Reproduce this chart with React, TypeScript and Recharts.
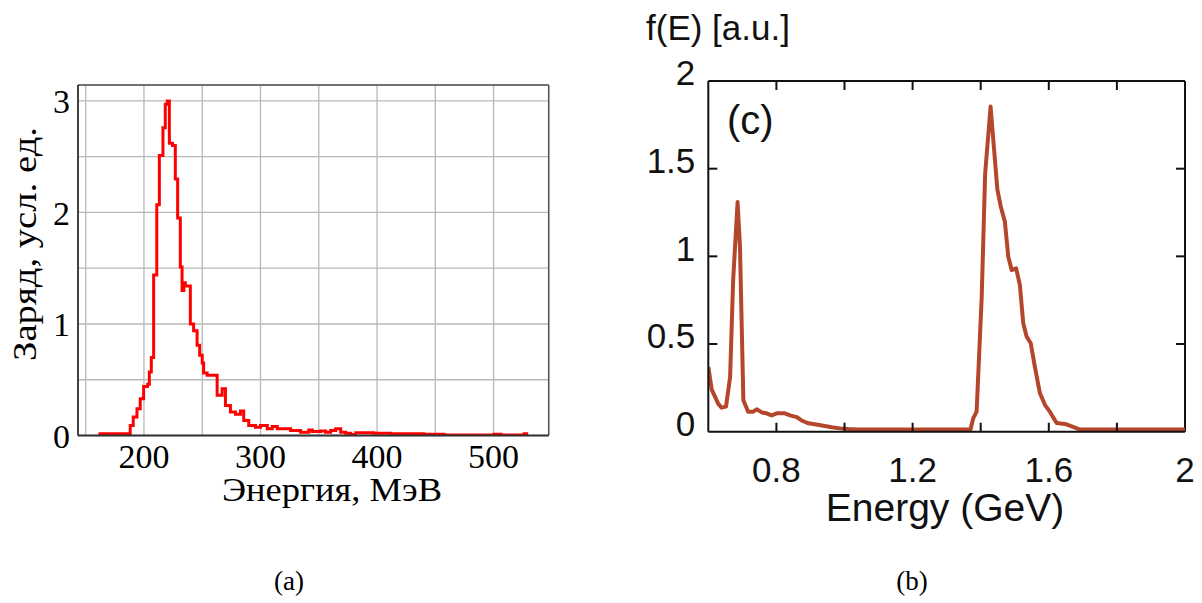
import React from "react";
import {
  LineChart, Line, XAxis, YAxis, CartesianGrid, ReferenceLine,
} from "recharts";

// (a) spectrum: bin left edges (MeV) and charge per bin, last edge closes the histogram
const binEdges = [
  161.0, 188.2, 190.8, 194.0, 196.8, 199.7, 203.1, 204.6, 206.3, 208.3,
  211.0, 213.2, 216.3, 218.3, 220.0, 221.8, 224.5, 226.9, 228.9, 231.2,
  232.7, 234.2, 235.5, 239.8, 242.6, 245.6, 247.8, 250.0, 251.2, 254.2,
  262.8, 267.1, 269.9, 274.2, 278.5, 282.8, 285.6, 289.9, 295.7, 300.0,
  305.8, 310.1, 314.4, 325.8, 334.4, 341.5, 344.5, 351.6, 355.9, 360.2,
  364.5, 368.8, 373.1, 377.4, 381.7, 397.2, 411.8, 440.2, 457.4, 500.4,
  506.4, 526.2, 529.7,
];
const binCharge = [
  0.015, 0.09, 0.165, 0.24, 0.33, 0.44, 0.46, 0.57, 0.70, 1.44,
  2.07, 2.51, 2.76, 2.97, 3.0, 2.62, 2.60, 2.30, 1.95, 1.51,
  1.30, 1.37, 1.34, 1.00, 0.94, 0.81, 0.72, 0.65, 0.56, 0.54,
  0.36, 0.42, 0.27, 0.21, 0.19, 0.22, 0.135, 0.09, 0.075, 0.09,
  0.06, 0.08, 0.06, 0.045, 0.03, 0.05, 0.035, 0.04, 0.03, 0.045,
  0.06, 0.03, 0.02, 0.01, 0.025, 0.02, 0.015, 0.012, 0.005, 0.012,
  0.005, 0.015,
];
const mevDomain = [143.4, 547.3];
const chargeDomain = [0, 3.143];
const mevTicks = [150, 200, 250, 300, 350, 400, 450, 500];
const chargeTicks = [0, 0.5, 1, 1.5, 2, 2.5, 3];

// (b) spectrum f(E)
const gevEnergy = [
  0.600, 0.610, 0.629, 0.639, 0.652, 0.664, 0.673, 0.686, 0.693, 0.703,
  0.717, 0.732, 0.742, 0.757, 0.771, 0.786, 0.801, 0.825, 0.840, 0.860,
  0.874, 0.894, 0.913, 0.938, 0.962, 0.987, 1.011, 1.036, 1.370, 1.378,
  1.388, 1.403, 1.413, 1.429, 1.437, 1.449, 1.459, 1.471, 1.481, 1.491,
  1.504, 1.515, 1.525, 1.535, 1.547, 1.559, 1.574, 1.589, 1.603, 1.623,
  1.652, 1.692, 2.000,
];
const fValue = [
  0.37, 0.24, 0.16, 0.137, 0.143, 0.31, 0.865, 1.31, 1.055, 0.18,
  0.114, 0.114, 0.128, 0.11, 0.105, 0.093, 0.105, 0.105, 0.093, 0.083,
  0.064, 0.048, 0.042, 0.034, 0.025, 0.019, 0.015, 0.012, 0.012, 0.076,
  0.114, 0.77, 1.47, 1.854, 1.664, 1.38, 1.283, 1.198, 0.998, 0.922,
  0.932, 0.837, 0.618, 0.542, 0.504, 0.371, 0.219, 0.152, 0.114, 0.05,
  0.042, 0.012, 0.012,
];
const gevDomain = [0.6, 2];
const fDomain = [0, 2];
const gevTicks = [0.8, 1.0, 1.2, 1.4, 1.6, 1.8, 2.0];
const fTicks = [0, 0.5, 1, 1.5, 2];

const histData = binEdges.map((e, i) => ({
  e,
  q: binCharge[Math.min(i, binCharge.length - 1)],
}));
const fData = gevEnergy.map((e, i) => ({ e, f: fValue[i] }));

const SERIF = "'Liberation Serif', 'DejaVu Serif', serif";
const SANS = "'Liberation Sans', Arial, Helvetica, sans-serif";
const INK = "#111";
const TICK = 9;

// layout of (b)
const B_W = 602, B_H = 603;
const B_MARGIN = { top: 81, right: 17, bottom: 111.3, left: 0 };
const B_YAXIS_W = 108.3, B_XAXIS_H = 60;
const B_PLOT_W = B_W - B_MARGIN.right - B_MARGIN.left - B_YAXIS_W;
const B_PLOT_H = B_H - B_MARGIN.top - B_MARGIN.bottom - B_XAXIS_H;

// bottom axis of (b): inward ticks at bottom and top, label below
const GevTick = (props: any) => {
  const { x, y, payload } = props;
  const v = payload.value;
  const show = Math.round(v * 10) % 4 === 0;
  const inner = v < 1.99;
  return (
    <g>
      {inner && <line x1={x} y1={y} x2={x} y2={y - TICK} stroke={INK} strokeWidth={2} />}
      {inner && <line x1={x} y1={y - B_PLOT_H} x2={x} y2={y - B_PLOT_H + TICK} stroke={INK} strokeWidth={2} />}
      {show && (
        <text x={x} y={y + 25.3} dy="0.71em" textAnchor="middle" fontFamily={SANS} fontSize={35} fill={INK}>
          {String(Math.round(v * 10) / 10)}
        </text>
      )}
    </g>
  );
};

// left axis of (b): inward ticks at left and right, label left
const FTick = (props: any) => {
  const { x, y, payload } = props;
  const v = payload.value;
  const inner = v > 0 && v < 2;
  return (
    <g>
      {inner && <line x1={x} y1={y} x2={x + TICK} y2={y} stroke={INK} strokeWidth={2} />}
      {inner && <line x1={x + B_PLOT_W} y1={y} x2={x + B_PLOT_W - TICK} y2={y} stroke={INK} strokeWidth={2} />}
      <text x={x - 13} y={y - 8} dy="0.355em" textAnchor="end" fontFamily={SANS} fontSize={35} fill={INK}>
        {String(v)}
      </text>
    </g>
  );
};

export default function App() {
  return (
    <div style={{ position: "absolute", left: 0, top: 0, width: 1202, height: 603, background: "#fff" }}>
      {/* (a) histogram */}
      <div style={{ position: "absolute", left: 0, top: 0 }}>
        <LineChart width={600} height={540} data={histData}
          margin={{ top: 85, right: 51.3, bottom: 44.5, left: 0 }}>
          <CartesianGrid stroke="#b8b8b8" strokeWidth={1.3} />
          <XAxis dataKey="e" type="number" domain={mevDomain} ticks={mevTicks} interval={0}
            allowDataOverflow height={60} tickLine={false}
            axisLine={{ stroke: "#333", strokeWidth: 2 }}
            tick={{ fontFamily: SERIF, fontSize: 34, fill: "#000" }}
            tickFormatter={(v: number) => (v % 100 === 0 ? String(v) : "")} />
          <YAxis type="number" domain={chargeDomain} ticks={chargeTicks} interval={0} allowDataOverflow
            width={78} tickLine={false} axisLine={{ stroke: "#111", strokeWidth: 1.5 }}
            tick={{ fontFamily: SERIF, fontSize: 34, fill: "#000" }}
            tickFormatter={(v: number) => (Number.isInteger(v) ? String(v) : "")} />
          <ReferenceLine y={chargeDomain[1]} stroke="#555" strokeWidth={1.5} />
          <ReferenceLine x={mevDomain[1]} stroke="#555" strokeWidth={1.5} />
          <Line dataKey="q" type="stepAfter" stroke="#ff0000" strokeWidth={3}
            dot={false} isAnimationActive={false} />
        </LineChart>
      </div>

      {/* (b) f(E) */}
      <div style={{ position: "absolute", left: 600, top: 0 }}>
        <LineChart width={B_W} height={B_H} data={fData} margin={B_MARGIN}>
          <XAxis dataKey="e" type="number" domain={gevDomain} ticks={gevTicks} interval={0}
            allowDataOverflow height={B_XAXIS_H} tickSize={0} tickMargin={0} tickLine={false}
            axisLine={{ stroke: INK, strokeWidth: 2 }} tick={<GevTick />} />
          <YAxis type="number" domain={fDomain} ticks={fTicks} interval={0} allowDataOverflow
            width={B_YAXIS_W} tickSize={0} tickMargin={0} tickLine={false}
            axisLine={{ stroke: INK, strokeWidth: 2 }} tick={<FTick />} />
          <ReferenceLine y={fDomain[1]} stroke={INK} strokeWidth={2} />
          <ReferenceLine x={gevDomain[1]} stroke={INK} strokeWidth={2} />
          <Line dataKey="f" type="linear" stroke="#b4472b" strokeWidth={4}
            strokeLinejoin="round" dot={false} isAnimationActive={false} />
        </LineChart>
      </div>

      {/* titles */}
      <svg width={1202} height={603} style={{ position: "absolute", left: 0, top: 0, pointerEvents: "none" }}>
        <text x={36} y={244} transform="rotate(-90 36 244)" textAnchor="middle"
          fontFamily={SERIF} fontSize={34} fill="#000" textLength={234} lengthAdjust="spacingAndGlyphs">
          Заряд, усл. ед.
        </text>
        <text x={332} y={501} textAnchor="middle" fontFamily={SERIF} fontSize={34} fill="#000"
          textLength={220} lengthAdjust="spacingAndGlyphs">
          Энергия, МэВ
        </text>
        <text x={289} y={590} textAnchor="middle" fontFamily={SERIF} fontSize={27} fill="#000">(a)</text>
        <text x={912} y={590} textAnchor="middle" fontFamily={SERIF} fontSize={27} fill="#000">(b)</text>
        <text x={646} y={40} fontFamily={SANS} fontSize={35} fill={INK}>f(E) [a.u.]</text>
        <text x={727} y={134} fontFamily={SANS} fontSize={40} fill={INK}>(c)</text>
        <text x={945} y={521} textAnchor="middle" fontFamily={SANS} fontSize={39} fill={INK}>
          Energy (GeV)
        </text>
      </svg>
    </div>
  );
}
